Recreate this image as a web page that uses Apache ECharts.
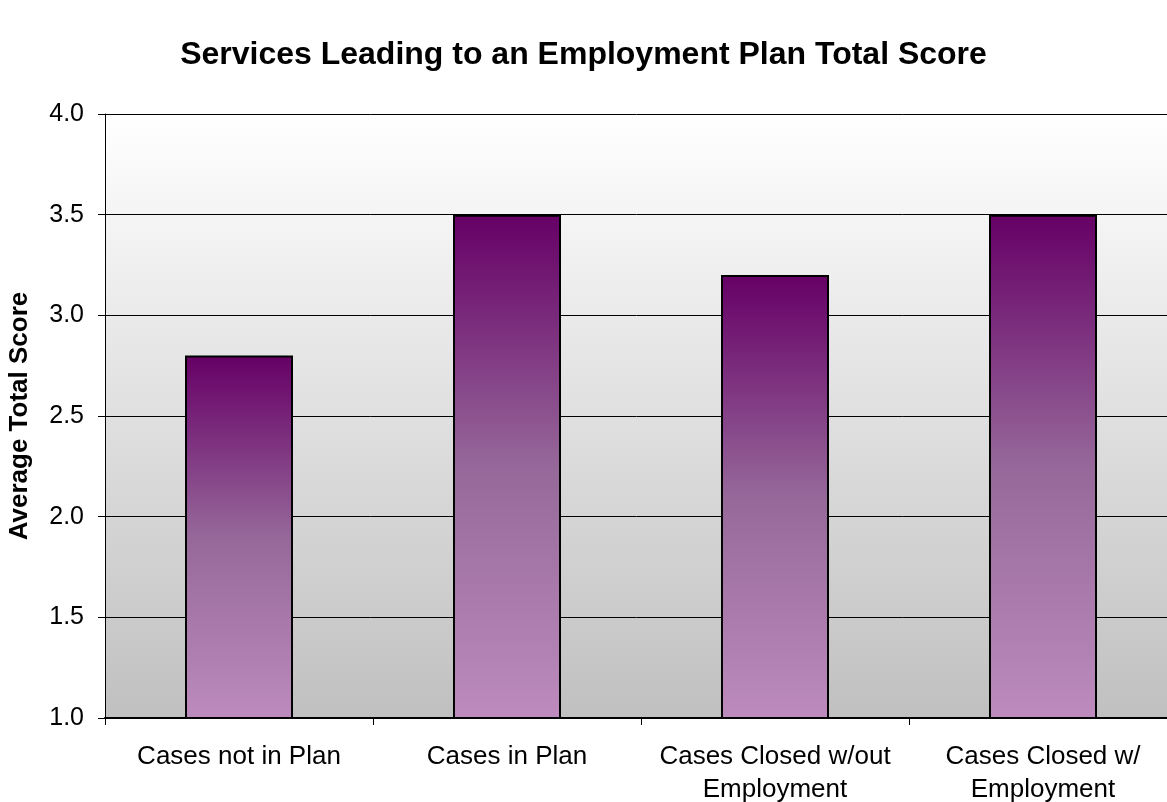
<!DOCTYPE html>
<html>
<head>
<meta charset="utf-8">
<script src="https://cdn.jsdelivr.net/npm/echarts@6/dist/echarts.min.js"></script>
<style>
  html, body { margin: 0; padding: 0; background: #fff; }
  #chart { width: 1167px; height: 802px; }
</style>
</head>
<body>
<div id="chart"></div>
<script>
let categorias = ['Cases not in Plan', 'Cases in Plan', 'Cases Closed w/out\nEmployment', 'Cases Closed w/\nEmployment'];
let puntajes = [2.8, 3.5, 3.2, 3.5];
let titulo = 'Services Leading to an Employment Plan Total Score';
let ejeY = 'Average Total Score';

let chart = echarts.init(document.getElementById('chart'));

let option = {
    title: {
        text: titulo,
        left: 'center',
        top: 34,
        textStyle: { fontFamily: 'Liberation Sans', fontSize: 32, fontWeight: 'bold', color: '#000' }
    },
    grid: {
        left: 105,
        right: -10,
        top: 114,
        bottom: 84,
        outerBoundsMode: 'none',
        // fondo degradado del área de trazado
        show: true,
        borderWidth: 0,
        backgroundColor: new echarts.graphic.LinearGradient(0, 0, 0, 1, [
            { offset: 0, color: '#ffffff' },
            { offset: 1, color: '#c0c0c0' }
        ])
    },
    xAxis: {
        type: 'category',
        data: categorias,
        axisLine: { lineStyle: { color: '#000', width: 2 } },
        axisTick: { show: true, length: 7, lineStyle: { color: '#000' } },
        axisLabel: {
            fontFamily: 'Liberation Sans', fontSize: 26, color: '#000',
            margin: 22, lineHeight: 33, interval: 0
        }
    },
    yAxis: {
        type: 'value',
        min: 1.0,
        max: 4.0,
        interval: 0.5,
        name: ejeY,
        nameLocation: 'middle',
        nameGap: 72,
        nameTextStyle: { fontFamily: 'Liberation Sans', fontSize: 26, fontWeight: 'bold', color: '#000' },
        axisLine: { show: true, lineStyle: { color: '#000', width: 1 } },
        axisTick: { show: true, length: 7, lineStyle: { color: '#000' } },
        axisLabel: {
            fontFamily: 'Liberation Sans', fontSize: 25, color: '#000', margin: 21,
            formatter: (v) => v.toFixed(1)
        },
        splitLine: { show: true, lineStyle: { color: '#000', width: 1 } }
    },
    series: [{
        name: 'Average Total Score',
        type: 'bar',
        data: puntajes,
        barWidth: 108,
        itemStyle: {
            borderColor: '#000',
            borderWidth: 2,
            color: new echarts.graphic.LinearGradient(0, 0, 0, 1, [
                { offset: 0, color: '#660066' },
                { offset: 0.5, color: '#96689a' },
                { offset: 1, color: '#bd8bbd' }
            ])
        }
    }]
};

option && chart.setOption(option);
window.addEventListener('resize', chart.resize);
</script>
</body>
</html>
